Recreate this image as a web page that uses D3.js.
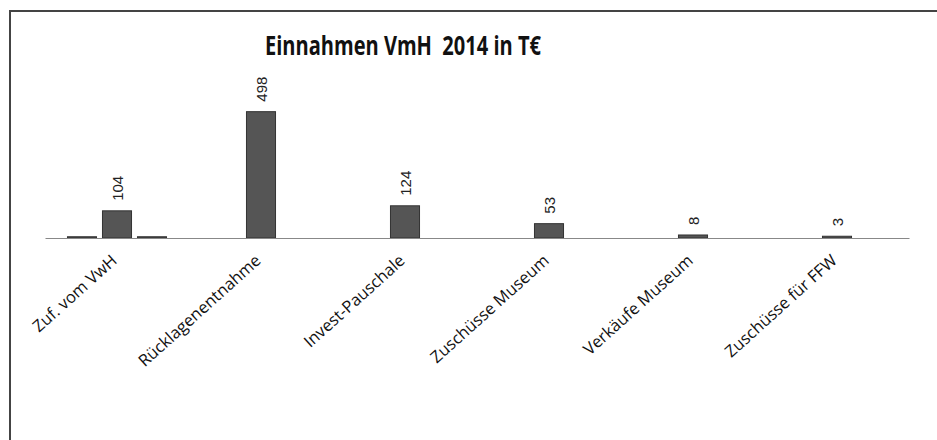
<!DOCTYPE html>
<html>
<head>
<meta charset="utf-8">
<script src="https://cdn.jsdelivr.net/npm/d3@7"></script>
<style>
  body { margin: 0; background: #fff; }
  svg { display: block; }
</style>
</head>
<body>
<div id="chart"></div>
<script>
// Einnahmen VmH 2014 (in T€)
var categories = ["Zuf. vom VwH", "Rücklagenentnahme", "Invest-Pauschale", "Zuschüsse Museum", "Verkäufe Museum", "Zuschüsse für FFW"];
var seriesNames = ["links", "Einnahmen", "rechts"];
var leftValues  = [1, null, null, null, null, null];   // flat bars only seen in the first group
var mainValues  = [104, 498, 124, 53, 8, 3];
var rightValues = [1, null, null, null, null, null];
var titleText = "Einnahmen VmH  2014 in T\u20ac";

var W = 937, H = 440;
var svg = d3.select("#chart").append("svg").attr("width", W).attr("height", H);

// frame (only the top and left edges of the scanned box are visible)
svg.append("path")
	.attr("d", "M10," + H + "V11H" + W)
	.attr("fill", "none")
	.attr("stroke", "#444")
	.attr("stroke-width", 2);

svg.append("text")
	.attr("x", 265).attr("y", 55)
	.attr("font-family", "Open Sans, sans-serif")
	.attr("font-weight", "bold")
	.attr("font-size", 27)
	.attr("textLength", 276)
	.attr("lengthAdjust", "spacingAndGlyphs")
	.style("white-space", "pre")
	.attr("fill", "#111")
	.text(titleText);

var x0 = d3.scaleBand().domain(categories).range([45, 909]);
var x1 = d3.scaleBand().domain(seriesNames).range([19.5, 124.5]).paddingInner(0.17).paddingOuter(0.085);
var y = d3.scaleLinear().domain([0, 600]).range([238, 87]);

var allSeries = [leftValues, mainValues, rightValues];
var barData = [];
allSeries.forEach(function(vals, s){
	vals.forEach(function(v, i){
		if (v !== null) barData.push({cat: categories[i], s: seriesNames[s], v: v, main: s === 1});
	});
});

svg.selectAll("rect.bar").data(barData)
	.enter().append("rect")
	.attr("class", "bar")
	.attr("x", function(d){ return x0(d.cat) + x1(d.s); })
	.attr("y", function(d){ return y(d.v) - 1; })
	.attr("width", x1.bandwidth())
	.attr("height", function(d){ return y(0) - y(d.v) + 1; })
	.attr("fill", "#555")
	.attr("stroke", "#333")
	.attr("stroke-width", 1);

// baseline
svg.append("g")
	.attr("transform", "translate(0," + y(0) + ")")
	.call(d3.axisBottom(x0).tickSize(0).tickFormat(""))
	.call(function(g){ g.select(".domain").attr("stroke", "#888").attr("stroke-width", 1.2); });

// value labels, rotated
svg.selectAll("text.val").data(barData.filter(function(d){ return d.main; }))
	.enter().append("text")
	.attr("class", "val")
	.attr("transform", function(d){
		var cx = x0(d.cat) + x1(d.s) + x1.bandwidth() / 2 + 1;
		return "translate(" + cx + "," + (y(d.v) - 11) + ") rotate(-90)";
	})
	.attr("dy", "0.35em")
	.attr("font-family", "Liberation Sans, Arial, sans-serif")
	.attr("font-size", 15)
	.attr("fill", "#222")
	.text(function(d){ return d.v; });

// category labels
svg.selectAll("text.cat").data(categories)
	.enter().append("text")
	.attr("class", "cat")
	.attr("transform", function(d){
		return "translate(" + (x0(d) + x0.bandwidth() / 2 + 1) + "," + (y(0) + 24) + ") rotate(-42)";
	})
	.attr("text-anchor", "end")
	.attr("font-family", "Open Sans, sans-serif")
	.attr("font-size", 16.5)
	.attr("fill", "#111")
	.text(String);
</script>
</body>
</html>
